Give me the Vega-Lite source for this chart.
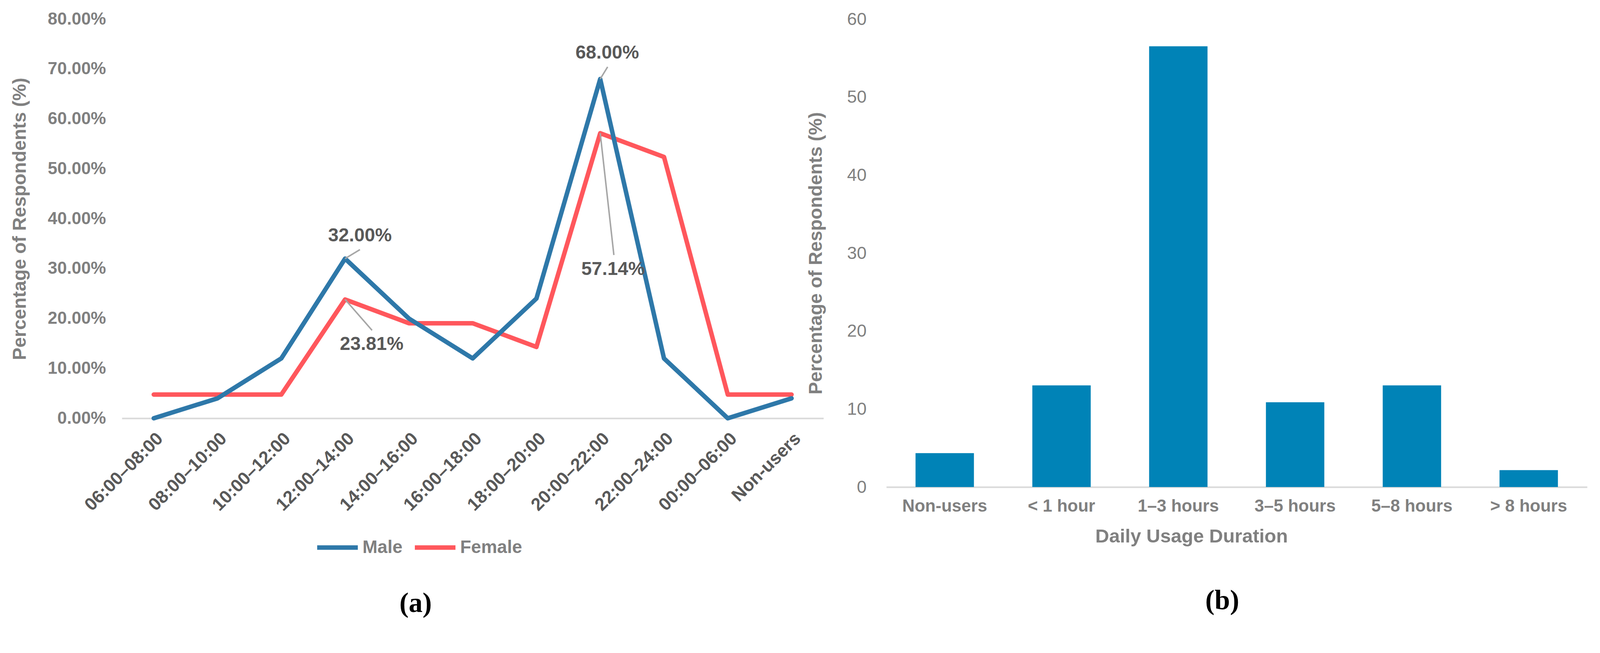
{
  "$schema": "https://vega.github.io/schema/vega-lite/v6.json",
  "padding": {"left": 27, "top": 27, "right": 19, "bottom": 10},
  "spacing": -43,
  "config": {
    "view": {"stroke": null},
    "font": "Liberation Sans"
  },
  "datasets": {
    "timeOfUse": [
      {"period": "06:00–08:00", "gender": "Male", "pct": 0.0},
      {"period": "08:00–10:00", "gender": "Male", "pct": 0.04},
      {"period": "10:00–12:00", "gender": "Male", "pct": 0.12},
      {"period": "12:00–14:00", "gender": "Male", "pct": 0.32},
      {"period": "14:00–16:00", "gender": "Male", "pct": 0.20},
      {"period": "16:00–18:00", "gender": "Male", "pct": 0.12},
      {"period": "18:00–20:00", "gender": "Male", "pct": 0.24},
      {"period": "20:00–22:00", "gender": "Male", "pct": 0.68},
      {"period": "22:00–24:00", "gender": "Male", "pct": 0.12},
      {"period": "00:00–06:00", "gender": "Male", "pct": 0.0},
      {"period": "Non-users", "gender": "Male", "pct": 0.04},
      {"period": "06:00–08:00", "gender": "Female", "pct": 0.0476},
      {"period": "08:00–10:00", "gender": "Female", "pct": 0.0476},
      {"period": "10:00–12:00", "gender": "Female", "pct": 0.0476},
      {"period": "12:00–14:00", "gender": "Female", "pct": 0.2381},
      {"period": "14:00–16:00", "gender": "Female", "pct": 0.1905},
      {"period": "16:00–18:00", "gender": "Female", "pct": 0.1905},
      {"period": "18:00–20:00", "gender": "Female", "pct": 0.1429},
      {"period": "20:00–22:00", "gender": "Female", "pct": 0.5714},
      {"period": "22:00–24:00", "gender": "Female", "pct": 0.5238},
      {"period": "00:00–06:00", "gender": "Female", "pct": 0.0476},
      {"period": "Non-users", "gender": "Female", "pct": 0.0476}
    ],
    "usage": [
      {"duration": "Non-users", "pct": 4.35},
      {"duration": "< 1 hour", "pct": 13.04},
      {"duration": "1–3 hours", "pct": 56.52},
      {"duration": "3–5 hours", "pct": 10.87},
      {"duration": "5–8 hours", "pct": 13.04},
      {"duration": "> 8 hours", "pct": 2.17}
    ]
  },
  "hconcat": [
    {
      "width": 1796,
      "height": 1022,
      "data": {"name": "timeOfUse"},
      "title": {
        "text": "(a)",
        "orient": "bottom",
        "anchor": "middle",
        "frame": "group",
        "dx": -146,
        "offset": 195,
        "font": "Liberation Serif",
        "fontSize": 71,
        "fontWeight": "bold",
        "color": "#000000"
      },
      "encoding": {
        "x": {
          "field": "period",
          "type": "nominal",
          "sort": ["06:00–08:00", "08:00–10:00", "10:00–12:00", "12:00–14:00", "14:00–16:00", "16:00–18:00", "18:00–20:00", "20:00–22:00", "22:00–24:00", "00:00–06:00", "Non-users"],
          "scale": {"type": "point", "padding": 0.5},
          "axis": {
            "title": null,
            "labelAngle": -45,
            "labelLimit": 1000,
            "ticks": false,
            "domainColor": "#d9d9d9",
            "domainWidth": 4,
            "labelFontSize": 46,
            "labelFontWeight": "bold",
            "labelColor": "#595959",
            "labelPadding": 29
          }
        },
        "y": {
          "field": "pct",
          "type": "quantitative",
          "scale": {"domain": [0, 0.8]},
          "axis": {
            "title": "Percentage of Respondents (%)",
            "format": ".2%",
            "values": [0, 0.1, 0.2, 0.3, 0.4, 0.5, 0.6, 0.7, 0.8],
            "grid": false,
            "ticks": false,
            "domain": false,
            "labelFontSize": 44,
            "labelFontWeight": "bold",
            "labelColor": "#808080",
            "labelPadding": 41,
            "titleFontSize": 48,
            "titleFontWeight": "bold",
            "titleColor": "#808080",
            "titlePadding": 46
          }
        }
      },
      "layer": [
        {
          "transform": [{"filter": "datum.gender === 'Female'"}],
          "mark": {"type": "line", "strokeWidth": 11.5, "strokeJoin": "round", "strokeCap": "round"},
          "encoding": {
            "color": {
              "field": "gender",
              "type": "nominal",
              "scale": {"domain": ["Male", "Female"], "range": ["#2E78A9", "#FF575C"]},
              "legend": {
                "title": null,
                "orient": "none",
                "direction": "horizontal",
                "legendX": 494,
                "legendY": 1295,
                "symbolType": "stroke",
                "symbolSize": 10816,
                "symbolStrokeWidth": 11.5,
                "labelFontSize": 46,
                "labelFontWeight": "bold",
                "labelColor": "#808080",
                "labelLimit": 1000,
                "labelOffset": 6,
                "columnPadding": 8,
                "padding": 0
              }
            }
          }
        },
        {
          "transform": [{"filter": "datum.gender === 'Male'"}],
          "mark": {"type": "line", "strokeWidth": 11.5, "strokeJoin": "round", "strokeCap": "round"},
          "encoding": {
            "color": {"field": "gender", "type": "nominal"}
          }
        },
        {
          "transform": [{"filter": "datum.gender === 'Male' && datum.period === '12:00–14:00'"}],
          "layer": [
            {
              "mark": {"type": "rule", "color": "#a6a6a6", "strokeWidth": 3.8, "x2Offset": 38, "y2Offset": -23},
              "encoding": {"x2": {"field": "period"}, "y2": {"field": "pct"}}
            },
            {
              "mark": {"type": "text", "dx": 38, "dy": -58, "fontSize": 48, "fontWeight": "bold", "color": "#595959", "align": "center", "baseline": "middle"},
              "encoding": {"text": {"field": "pct", "type": "quantitative", "format": ".2%"}}
            }
          ]
        },
        {
          "transform": [{"filter": "datum.gender === 'Male' && datum.period === '20:00–22:00'"}],
          "layer": [
            {
              "mark": {"type": "rule", "color": "#a6a6a6", "strokeWidth": 3.8, "x2Offset": 19, "y2Offset": -31},
              "encoding": {"x2": {"field": "period"}, "y2": {"field": "pct"}}
            },
            {
              "mark": {"type": "text", "dx": 18, "dy": -66, "fontSize": 48, "fontWeight": "bold", "color": "#595959", "align": "center", "baseline": "middle"},
              "encoding": {"text": {"field": "pct", "type": "quantitative", "format": ".2%"}}
            }
          ]
        },
        {
          "transform": [{"filter": "datum.gender === 'Female' && datum.period === '20:00–22:00'"}],
          "layer": [
            {
              "mark": {"type": "rule", "color": "#a6a6a6", "strokeWidth": 3.8, "x2Offset": 35, "y2Offset": 312},
              "encoding": {"x2": {"field": "period"}, "y2": {"field": "pct"}}
            },
            {
              "mark": {"type": "text", "dx": 33, "dy": 349, "fontSize": 48, "fontWeight": "bold", "color": "#595959", "align": "center", "baseline": "middle"},
              "encoding": {"text": {"field": "pct", "type": "quantitative", "format": ".2%"}}
            }
          ]
        },
        {
          "transform": [{"filter": "datum.gender === 'Female' && datum.period === '12:00–14:00'"}],
          "layer": [
            {
              "mark": {"type": "rule", "color": "#a6a6a6", "strokeWidth": 3.8, "x2Offset": 69, "y2Offset": 79},
              "encoding": {"x2": {"field": "period"}, "y2": {"field": "pct"}}
            },
            {
              "mark": {"type": "text", "dx": 68, "dy": 115, "fontSize": 48, "fontWeight": "bold", "color": "#595959", "align": "center", "baseline": "middle"},
              "encoding": {"text": {"field": "pct", "type": "quantitative", "format": ".2%"}}
            }
          ]
        }
      ]
    },
    {
      "width": 1794,
      "height": 1198,
      "data": {"name": "usage"},
      "title": {
        "text": "(b)",
        "orient": "bottom",
        "anchor": "middle",
        "frame": "group",
        "dx": -37,
        "offset": 106,
        "font": "Liberation Serif",
        "fontSize": 71,
        "fontWeight": "bold",
        "color": "#000000"
      },
      "mark": {"type": "bar", "color": "#0083B7"},
      "encoding": {
        "x": {
          "field": "duration",
          "type": "nominal",
          "sort": ["Non-users", "< 1 hour", "1–3 hours", "3–5 hours", "5–8 hours", "> 8 hours"],
          "scale": {"paddingInner": 0.5, "paddingOuter": 0.25},
          "axis": {
            "title": "Daily Usage Duration",
            "labelAngle": 0,
            "labelLimit": 1000,
            "ticks": false,
            "domainColor": "#d9d9d9",
            "domainWidth": 4,
            "labelFontSize": 44,
            "labelFontWeight": "bold",
            "labelColor": "#808080",
            "labelPadding": 27,
            "titleFontSize": 49,
            "titleFontWeight": "bold",
            "titleColor": "#808080",
            "titleX": 781,
            "titleY": 126,
            "titleBaseline": "middle",
            "titleAlign": "center"
          }
        },
        "y": {
          "field": "pct",
          "type": "quantitative",
          "scale": {"domain": [0, 60]},
          "axis": {
            "title": "Percentage of Respondents (%)",
            "values": [0, 10, 20, 30, 40, 50, 60],
            "grid": false,
            "ticks": false,
            "domain": false,
            "labelFontSize": 45,
            "labelColor": "#808080",
            "labelPadding": 51,
            "titleFontSize": 48,
            "titleFontWeight": "bold",
            "titleColor": "#808080",
            "titlePadding": 54
          }
        }
      }
    }
  ]
}
